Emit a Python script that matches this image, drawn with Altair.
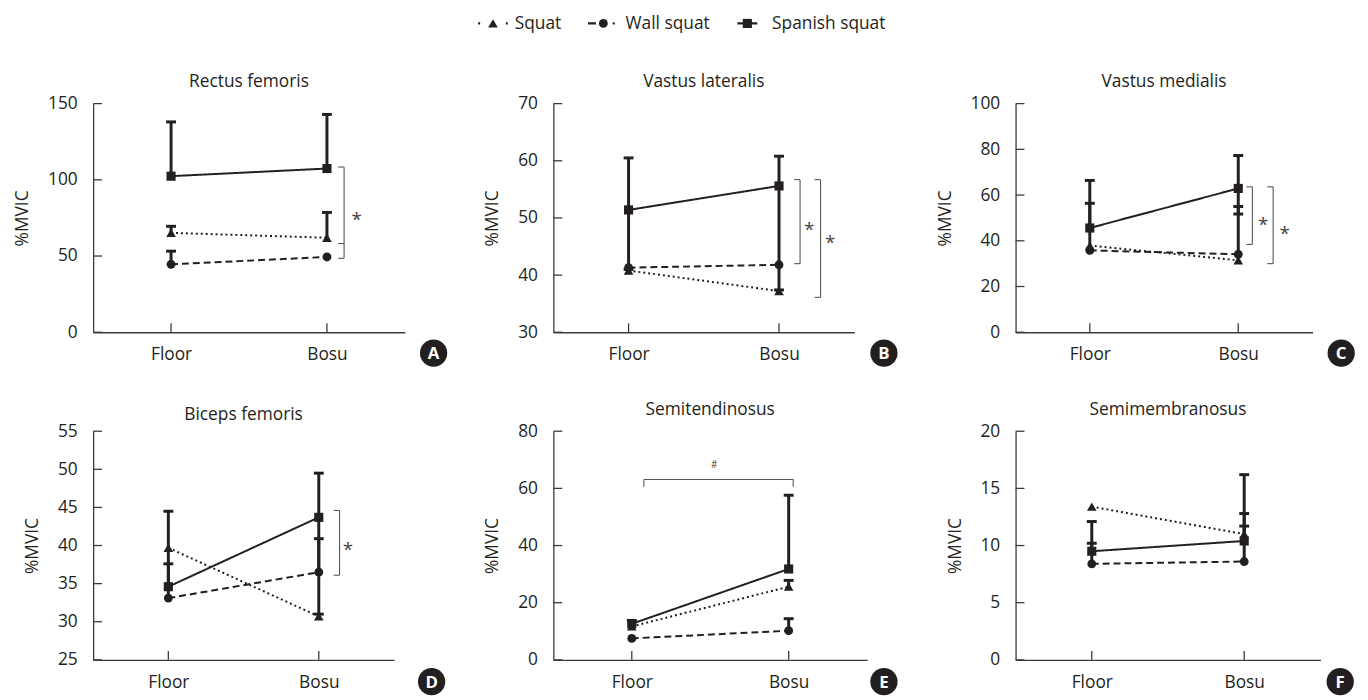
import altair as alt
import pandas as pd

# ---------------- data ----------------
PANELS = ["Rectus femoris", "Vastus lateralis", "Vastus medialis",
          "Biceps femoris", "Semitendinosus", "Semimembranosus"]
LETTERS = ["A", "B", "C", "D", "E", "F"]
SERIES = ["Squat", "Wall squat", "Spanish squat"]
CONDITIONS = ["Floor", "Bosu"]

SQUAT_FLOOR = [65.2, 40.8, 37.9, 39.7, 11.7, 13.4]
SQUAT_BOSU = [62.0, 37.2, 31.5, 30.7, 25.6, 11.0]
WALL_FLOOR = [44.6, 41.3, 35.8, 33.1, 7.5, 8.4]
WALL_BOSU = [49.4, 41.8, 34.1, 36.5, 10.2, 8.6]
SPANISH_FLOOR = [102.4, 51.4, 45.6, 34.6, 12.6, 9.5]
SPANISH_BOSU = [107.4, 55.6, 62.9, 43.7, 31.8, 10.4]

Y_TICKS = [[0, 50, 100, 150], [30, 40, 50, 60, 70], [0, 20, 40, 60, 80, 100],
           [25, 30, 35, 40, 45, 50, 55], [0, 20, 40, 60, 80], [0, 5, 10, 15, 20]]

# error bars: panel, series, condition, end of the bar
ERR_PANEL = [0, 0, 0, 0, 0,
             1, 1, 1, 1,
             2, 2, 2, 2, 2,
             3, 3, 3, 3, 3,
             4, 4, 4, 4,
             5, 5, 5, 5, 5]
ERR_SERIES = ["Spanish squat", "Spanish squat", "Squat", "Squat", "Wall squat",
              "Spanish squat", "Spanish squat", "Spanish squat", "Spanish squat",
              "Spanish squat", "Spanish squat", "Squat", "Squat", "Spanish squat",
              "Spanish squat", "Wall squat", "Spanish squat", "Wall squat", "Spanish squat",
              "Spanish squat", "Spanish squat", "Squat", "Wall squat",
              "Spanish squat", "Wall squat", "Spanish squat", "Squat", "Wall squat"]
ERR_COND = ["Floor", "Bosu", "Floor", "Bosu", "Floor",
            "Floor", "Floor", "Bosu", "Bosu",
            "Floor", "Bosu", "Floor", "Bosu", "Bosu",
            "Floor", "Floor", "Bosu", "Bosu", "Bosu",
            "Floor", "Bosu", "Bosu", "Bosu",
            "Floor", "Floor", "Bosu", "Bosu", "Bosu"]
ERR_END = [138.0, 142.9, 69.5, 78.6, 53.2,
           60.5, 41.0, 60.8, 37.4,
           66.4, 77.3, 56.4, 55.0, 51.7,
           44.5, 37.6, 49.5, 40.9, 31.0,
           13.8, 57.6, 27.8, 14.4,
           12.1, 10.2, 16.2, 12.8, 11.7]

# significance brackets (vertical, ticks pointing left)
BRACKET_PANEL = [0, 1, 1, 2, 2, 3]
BRACKET_X = [1.61, 1.64, 1.776, 1.595, 1.735, 1.638]
BRACKET_ENDS = [[108.4, 58.2, 48.5], [56.7, 42.0], [56.7, 36.1],
                [63.6, 38.4], [63.6, 30.0], [44.6, 36.1]]
STAR_PANEL = [0, 1, 1, 2, 2, 3]
STAR_X = [1.69, 1.70, 1.84, 1.667, 1.813, 1.693]
STAR_Y = [77.0, 48.8, 46.5, 49.2, 44.9, 40.0]
# horizontal bracket with "#" in Semitendinosus
HASH_PANEL = 4
HASH_X = [0.577, 1.529]
HASH_Y = [63.1, 60.6]
HASH_MARK = [1.025, 68.0]

# ---------------- styling ----------------
FONT = "Open Sans"
TXT = "#231f20"
AXC = "#3a3a3a"
FS = 17.5
WIDTHS = [315, 304, 300, 304, 317, 308]
H = 231
TITLE_DY = [-22, -22, -22, -16, -21, -21]
LETTER_X = [344, 334, 329, 342, 334, 328]
LETTER_DY = [21, 21, 21, 22, 22, 22]
DASHES = [[2, 3], [7, 4], [1, 0]]
SHAPES = ["triangle-up", "circle", "square"]
SIZES = [95, 80, 85]
# legend layout (pixels, relative to the first panel's plot area)
LEG_Y = -81
LEG_LINE_X = [(389, 420), (500, 527), (651, 671)]
LEG_LINE_DASH = [[2, 12], [8, 17], [1, 0]]
LEG_MARK_X = [404, 515.5, 661]
LEG_TEXT_X = [426, 538, 686]

# ---------------- tables ----------------
MEANS = {"Squat": (SQUAT_FLOOR, SQUAT_BOSU),
         "Wall squat": (WALL_FLOOR, WALL_BOSU),
         "Spanish squat": (SPANISH_FLOOR, SPANISH_BOSU)}
rows = []
for p in range(len(PANELS)):
    for s in SERIES:
        for ci, c in enumerate(CONDITIONS):
            rows.append({"panel": p, "series": s, "cond": c, "value": MEANS[s][ci][p]})
means = pd.DataFrame(rows)

err = pd.DataFrame({"panel": ERR_PANEL, "series": ERR_SERIES, "cond": ERR_COND, "end": ERR_END})
err = err.merge(means, on=["panel", "series", "cond"], how="left")

legend_df = pd.DataFrame({"series": SERIES})

XCALC = "datum.cond === 'Floor' ? 0.5 : 1.5"


def make_panel(p):
    W = WIDTHS[p]
    ticks = Y_TICKS[p]
    xs = alt.Scale(domain=[0, 2], nice=False, zero=False)
    ys = alt.Scale(domain=[ticks[0], ticks[-1]], nice=False, zero=False)
    xaxis = alt.Axis(values=[0.5, 1.5], labelExpr="datum.value < 1 ? 'Floor' : 'Bosu'",
                     title=None, grid=False, ticks=False, tickSize=0, labelPadding=14,
                     domainColor=AXC, domainWidth=1.3, labelFont=FONT, labelFontSize=FS,
                     labelColor=TXT)
    yaxis = alt.Axis(values=ticks, title="%MVIC", grid=False, ticks=False, tickSize=0,
                     labelPadding=16, titlePadding=16, domainColor=AXC, domainWidth=1.3,
                     labelFont=FONT, labelFontSize=FS, labelColor=TXT,
                     titleFont=FONT, titleFontSize=FS, titleFontWeight="normal",
                     titleColor=TXT)

    def X(f):
        return alt.X(f, scale=xs, axis=xaxis)

    def Y(f):
        return alt.Y(f, scale=ys, axis=yaxis)

    md = means[means.panel == p]
    base = alt.Chart(md).transform_calculate(xpos=XCALC)
    layers = []

    # inward axis ticks
    layers.append(alt.Chart(pd.DataFrame({"t": ticks})).mark_rule(color=AXC, strokeWidth=1.3)
                  .encode(y=Y("t:Q"), x=alt.value(0), x2=alt.value(9)))
    layers.append(alt.Chart(pd.DataFrame({"cond": CONDITIONS})).transform_calculate(xpos=XCALC)
                  .mark_rule(color=AXC, strokeWidth=1.3)
                  .encode(x=X("xpos:Q"), y=alt.value(H), y2=alt.value(H - 9)))

    # lines
    layers.append(base.mark_line(color=TXT, strokeWidth=2).encode(
        x=X("xpos:Q"), y=Y("value:Q"),
        strokeDash=alt.StrokeDash("series:N", scale=alt.Scale(domain=SERIES, range=DASHES), legend=None),
        detail="series:N"))

    # error bars
    ed = err[err.panel == p]
    ebase = alt.Chart(ed).transform_calculate(xpos=XCALC)
    layers.append(ebase.mark_rule(color=TXT, strokeWidth=3).encode(
        x=X("xpos:Q"), y=Y("value:Q"), y2=alt.Y2("end")))
    layers.append(ebase.mark_rule(color=TXT, strokeWidth=3, xOffset=-5, x2Offset=5).encode(
        x=X("xpos:Q"), x2=alt.X2("xpos"), y=Y("end:Q")))

    # markers
    for s, shp, sz in zip(SERIES, SHAPES, SIZES):
        layers.append(base.transform_filter(alt.datum.series == s)
                      .mark_point(shape=shp, filled=True, size=sz, color=TXT, opacity=1)
                      .encode(x=X("xpos:Q"), y=Y("value:Q")))

    # panel title
    tdf = pd.DataFrame({"title": [PANELS[p]]})
    layers.append(alt.Chart(tdf).mark_text(font=FONT, fontSize=FS, color=TXT, align="center",
                                           baseline="middle")
                  .encode(x=alt.value(W / 2), y=alt.value(TITLE_DY[p]), text="title:N"))

    # legend (drawn once, above the first row)
    if p == 0:
        for i, s in enumerate(SERIES):
            lsrc = alt.Chart(legend_df).transform_filter(alt.datum.series == s)
            layers.append(lsrc.mark_rule(color=TXT, strokeWidth=2.2, strokeDash=LEG_LINE_DASH[i])
                          .encode(x=alt.value(LEG_LINE_X[i][0]), x2=alt.value(LEG_LINE_X[i][1]),
                                  y=alt.value(LEG_Y)))
            layers.append(lsrc.mark_point(shape=SHAPES[i], filled=True, size=SIZES[i], color=TXT, opacity=1)
                          .encode(x=alt.value(LEG_MARK_X[i]), y=alt.value(LEG_Y)))
            layers.append(lsrc.mark_text(font=FONT, fontSize=FS, color=TXT, align="left", baseline="middle")
                          .encode(x=alt.value(LEG_TEXT_X[i]), y=alt.value(LEG_Y + 1), text="series:N"))

    # significance brackets
    br, tk = [], []
    for bp, bx, ends in zip(BRACKET_PANEL, BRACKET_X, BRACKET_ENDS):
        if bp == p:
            br.append({"bx": bx, "y1": max(ends), "y2": min(ends)})
            for e in ends:
                tk.append({"bx": bx, "by": e})
    if br:
        layers.append(alt.Chart(pd.DataFrame(br)).mark_rule(color="#555555", strokeWidth=1.1)
                      .encode(x=X("bx:Q"), y=Y("y1:Q"), y2=alt.Y2("y2")))
        layers.append(alt.Chart(pd.DataFrame(tk)).mark_rule(color="#555555", strokeWidth=1.1, xOffset=-6)
                      .encode(x=X("bx:Q"), x2=alt.X2("bx"), y=Y("by:Q")))
        st = pd.DataFrame({"sx": [x for sp, x in zip(STAR_PANEL, STAR_X) if sp == p],
                           "sy": [y for sp, y in zip(STAR_PANEL, STAR_Y) if sp == p]})
        st["txt"] = "*"
        layers.append(alt.Chart(st).mark_text(font=FONT, fontSize=19, color="#444444",
                                              baseline="middle", dy=5)
                      .encode(x=X("sx:Q"), y=Y("sy:Q"), text="txt:N"))
    if p == HASH_PANEL:
        hd = pd.DataFrame({"hx1": [HASH_X[0]], "hx2": [HASH_X[1]], "hy": [HASH_Y[0]]})
        layers.append(alt.Chart(hd).mark_rule(color="#555555", strokeWidth=1.1)
                      .encode(x=X("hx1:Q"), x2=alt.X2("hx2"), y=Y("hy:Q")))
        vd = pd.DataFrame({"hx": HASH_X, "hy1": [HASH_Y[0]] * 2, "hy2": [HASH_Y[1]] * 2})
        layers.append(alt.Chart(vd).mark_rule(color="#555555", strokeWidth=1.1)
                      .encode(x=X("hx:Q"), y=Y("hy1:Q"), y2=alt.Y2("hy2")))
        hm = pd.DataFrame({"mx": [HASH_MARK[0]], "my": [HASH_MARK[1]], "txt": ["#"]})
        layers.append(alt.Chart(hm).mark_text(font=FONT, fontSize=10, color="#444444", baseline="middle")
                      .encode(x=X("mx:Q"), y=Y("my:Q"), text="txt:N"))

    # panel letter in a black circle
    ld = pd.DataFrame({"letter": [LETTERS[p]]})
    layers.append(alt.Chart(ld).mark_point(shape="circle", filled=True, size=760, color=TXT, opacity=1)
                  .encode(x=alt.value(LETTER_X[p]), y=alt.value(H + LETTER_DY[p])))
    layers.append(alt.Chart(ld).mark_text(font=FONT, fontSize=17, fontWeight="bold", color="white",
                                          baseline="middle", align="center")
                  .encode(x=alt.value(LETTER_X[p]), y=alt.value(H + LETTER_DY[p] + 1), text="letter:N"))

    return alt.layer(*layers).properties(width=W, height=H)


chart = (alt.concat(*[make_panel(p) for p in range(6)], columns=3,
                    spacing={"row": 100, "column": 150}, bounds="flush", align="each")
         .resolve_scale(strokeDash="independent")
         .properties(padding={"left": 5, "top": 4, "right": 5, "bottom": 5})
         .configure_view(stroke=None))

chart.save("out.html", embed_options={"renderer": "svg", "actions": False})
